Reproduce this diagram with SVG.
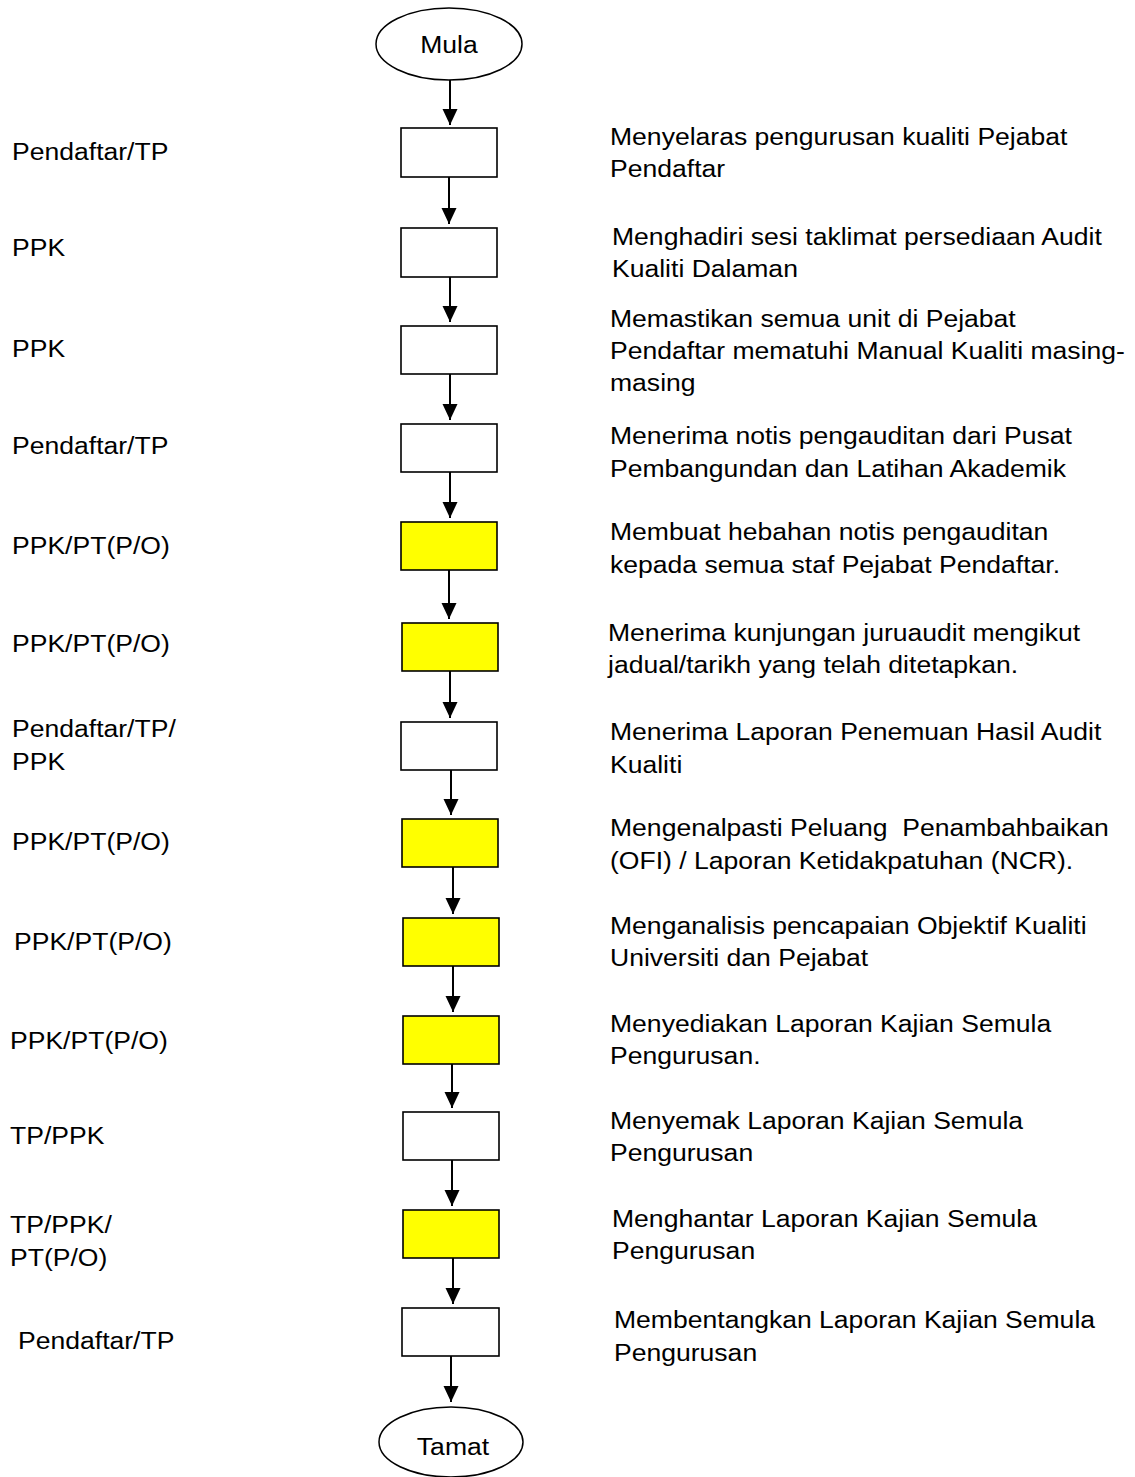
<svg xmlns="http://www.w3.org/2000/svg" width="1135" height="1477" viewBox="0 0 1135 1477">
<style>
text{font-family:"Liberation Sans",Arial,sans-serif;font-size:23.5px;fill:#000}
.box{stroke:#000;stroke-width:1.6;fill:#fff}
.y{fill:#ffff00}
.term{stroke:#000;stroke-width:1.5;fill:#fff}
.conn line{stroke:#000;stroke-width:2}
</style>
<defs>
<marker id="ah" markerUnits="userSpaceOnUse" markerWidth="16" markerHeight="16" viewBox="0 0 16 15" refX="16" refY="7.5" orient="auto">
<path d="M0,0 L16,7.5 L0,15 Z" fill="#000"/>
</marker>
</defs>
<rect width="1135" height="1477" fill="#fff"/>

<g id="start">
<ellipse class="term" cx="449" cy="44" rx="73" ry="36"/>
<text x="449" y="53" text-anchor="middle" transform="translate(449 0) scale(1.13 1) translate(-449 0)">Mula</text>
</g>

<g id="step1">
<rect class="box" x="401" y="128" width="96" height="49"/>
<text transform="translate(12 160) scale(1.13 1)">Pendaftar/TP</text>
<text transform="translate(610 145) scale(1.13 1)"><tspan x="0" y="0">Menyelaras pengurusan kualiti Pejabat</tspan><tspan x="0" y="32">Pendaftar</tspan></text>
</g>
<g id="step2">
<rect class="box" x="401" y="228" width="96" height="49"/>
<text transform="translate(12 256) scale(1.13 1)">PPK</text>
<text transform="translate(612 245) scale(1.13 1)"><tspan x="0" y="0">Menghadiri sesi taklimat persediaan Audit</tspan><tspan x="0" y="32">Kualiti Dalaman</tspan></text>
</g>
<g id="step3">
<rect class="box" x="401" y="326" width="96" height="48"/>
<text transform="translate(12 357) scale(1.13 1)">PPK</text>
<text transform="translate(610 327) scale(1.13 1)"><tspan x="0" y="0">Memastikan semua unit di Pejabat</tspan><tspan x="0" y="32">Pendaftar mematuhi Manual Kualiti masing-</tspan><tspan x="0" y="64">masing</tspan></text>
</g>
<g id="step4">
<rect class="box" x="401" y="424" width="96" height="48"/>
<text transform="translate(12 454) scale(1.13 1)">Pendaftar/TP</text>
<text transform="translate(610 444) scale(1.13 1)"><tspan x="0" y="0">Menerima notis pengauditan dari Pusat</tspan><tspan x="0" y="33">Pembangundan dan Latihan Akademik</tspan></text>
</g>
<g id="step5">
<rect class="box y" x="401" y="522" width="96" height="48"/>
<text transform="translate(12 554) scale(1.13 1)">PPK/PT(P/O)</text>
<text transform="translate(610 540) scale(1.13 1)"><tspan x="0" y="0">Membuat hebahan notis pengauditan</tspan><tspan x="0" y="33">kepada semua staf Pejabat Pendaftar.</tspan></text>
</g>
<g id="step6">
<rect class="box y" x="402" y="623" width="96" height="48"/>
<text transform="translate(12 652) scale(1.13 1)">PPK/PT(P/O)</text>
<text transform="translate(608 641) scale(1.13 1)"><tspan x="0" y="0">Menerima kunjungan juruaudit mengikut</tspan><tspan x="0" y="32">jadual/tarikh yang telah ditetapkan.</tspan></text>
</g>
<g id="step7">
<rect class="box" x="401" y="722" width="96" height="48"/>
<text transform="translate(12 737) scale(1.13 1)"><tspan x="0" y="0">Pendaftar/TP/</tspan><tspan x="0" y="33">PPK</tspan></text>
<text transform="translate(610 740) scale(1.13 1)"><tspan x="0" y="0">Menerima Laporan Penemuan Hasil Audit</tspan><tspan x="0" y="33">Kualiti</tspan></text>
</g>
<g id="step8">
<rect class="box y" x="402" y="819" width="96" height="48"/>
<text transform="translate(12 850) scale(1.13 1)">PPK/PT(P/O)</text>
<text transform="translate(610 836) scale(1.13 1)"><tspan x="0" y="0" xml:space="preserve">Mengenalpasti Peluang  Penambahbaikan</tspan><tspan x="0" y="33">(OFI) / Laporan Ketidakpatuhan (NCR).</tspan></text>
</g>
<g id="step9">
<rect class="box y" x="403" y="918" width="96" height="48"/>
<text transform="translate(14 950) scale(1.13 1)">PPK/PT(P/O)</text>
<text transform="translate(610 934) scale(1.13 1)"><tspan x="0" y="0">Menganalisis pencapaian Objektif Kualiti</tspan><tspan x="0" y="32">Universiti dan Pejabat</tspan></text>
</g>
<g id="step10">
<rect class="box y" x="403" y="1016" width="96" height="48"/>
<text transform="translate(10 1049) scale(1.13 1)">PPK/PT(P/O)</text>
<text transform="translate(610 1032) scale(1.13 1)"><tspan x="0" y="0">Menyediakan Laporan Kajian Semula</tspan><tspan x="0" y="32">Pengurusan.</tspan></text>
</g>
<g id="step11">
<rect class="box" x="403" y="1112" width="96" height="48"/>
<text transform="translate(10 1144) scale(1.13 1)">TP/PPK</text>
<text transform="translate(610 1129) scale(1.13 1)"><tspan x="0" y="0">Menyemak Laporan Kajian Semula</tspan><tspan x="0" y="32">Pengurusan</tspan></text>
</g>
<g id="step12">
<rect class="box y" x="403" y="1210" width="96" height="48"/>
<text transform="translate(10 1233) scale(1.13 1)"><tspan x="0" y="0">TP/PPK/</tspan><tspan x="0" y="33">PT(P/O)</tspan></text>
<text transform="translate(612 1227) scale(1.13 1)"><tspan x="0" y="0">Menghantar Laporan Kajian Semula</tspan><tspan x="0" y="32">Pengurusan</tspan></text>
</g>
<g id="step13">
<rect class="box" x="402" y="1308" width="97" height="48"/>
<text transform="translate(18 1349) scale(1.13 1)">Pendaftar/TP</text>
<text transform="translate(614 1328) scale(1.13 1)"><tspan x="0" y="0">Membentangkan Laporan Kajian Semula</tspan><tspan x="0" y="33">Pengurusan</tspan></text>
</g>

<g id="end">
<ellipse class="term" cx="451" cy="1442" rx="72" ry="35"/>
<text x="453" y="1455" text-anchor="middle" transform="translate(453 0) scale(1.13 1) translate(-453 0)">Tamat</text>
</g>

<g class="conn" id="connectors">
<line x1="450" y1="80" x2="450" y2="125" marker-end="url(#ah)"/>
<line x1="449" y1="177" x2="449" y2="224" marker-end="url(#ah)"/>
<line x1="450" y1="277" x2="450" y2="322" marker-end="url(#ah)"/>
<line x1="450" y1="374" x2="450" y2="420" marker-end="url(#ah)"/>
<line x1="450" y1="472" x2="450" y2="518" marker-end="url(#ah)"/>
<line x1="449" y1="570" x2="449" y2="619" marker-end="url(#ah)"/>
<line x1="450" y1="671" x2="450" y2="718" marker-end="url(#ah)"/>
<line x1="451" y1="770" x2="451" y2="815" marker-end="url(#ah)"/>
<line x1="453" y1="867" x2="453" y2="914" marker-end="url(#ah)"/>
<line x1="453" y1="966" x2="453" y2="1012" marker-end="url(#ah)"/>
<line x1="452" y1="1064" x2="452" y2="1108" marker-end="url(#ah)"/>
<line x1="452" y1="1160" x2="452" y2="1206" marker-end="url(#ah)"/>
<line x1="453" y1="1258" x2="453" y2="1304" marker-end="url(#ah)"/>
<line x1="451" y1="1356" x2="451" y2="1402" marker-end="url(#ah)"/>
</g>
</svg>
